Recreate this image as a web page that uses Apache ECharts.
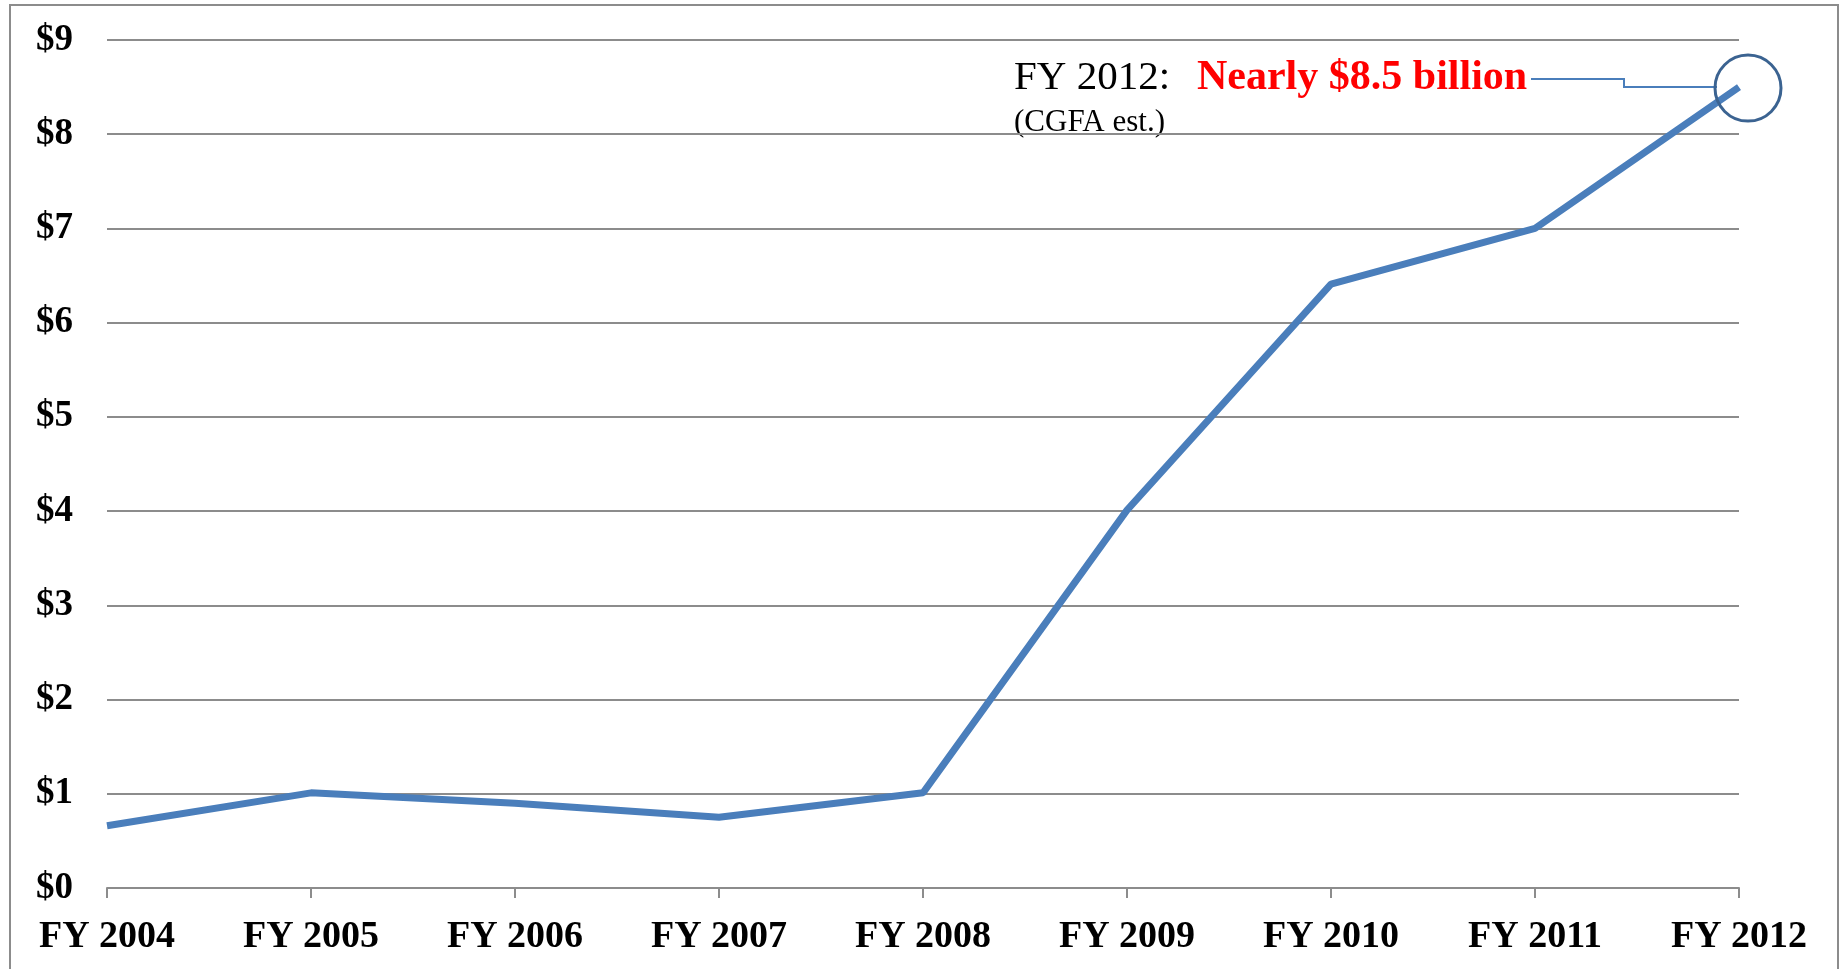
<!DOCTYPE html>
<html>
<head>
<meta charset="utf-8">
<script src="https://cdn.jsdelivr.net/npm/echarts@6/dist/echarts.min.js"></script>
<style>
  html, body { margin: 0; padding: 0; background: #fff; }
  #chart { width: 1841px; height: 969px; }
</style>
</head>
<body>
<div id="chart"></div>
<script>
// fiscal years
const years = ['FY 2004', 'FY 2005', 'FY 2006', 'FY 2007', 'FY 2008', 'FY 2009', 'FY 2010', 'FY 2011', 'FY 2012']
// spending, $ billion
const billions = [0.66, 1.01, 0.9, 0.75, 1.01, 4.01, 6.41, 7.0, 8.5]
const yTicks = [0, 1, 2, 3, 4, 5, 6, 7, 8, 9]

const serif = '"Liberation Serif", "Times New Roman", serif'
const lineBlue = '#4a7ebb'
const gridGray = '#8c8c8c'

const chart = echarts.init(document.getElementById('chart'))

chart.setOption({
  animation: false,
  backgroundColor: '#fff',
  grid: {
    left: 107,
    right: 102,
    top: 40,
    bottom: 81
  },
  xAxis: {
    type: 'category',
    data: years,
    boundaryGap: false,
    axisLine: { lineStyle: { color: gridGray, width: 2 } },
    axisTick: { show: true, length: 10, lineStyle: { color: gridGray, width: 2 } },
    axisLabel: {
      color: '#000',
      fontFamily: serif,
      fontWeight: 'bold',
      fontSize: 38,
      margin: 30
    }
  },
  yAxis: {
    type: 'value',
    min: yTicks[0],
    max: yTicks[yTicks.length - 1],
    interval: 1,
    axisLine: { show: false },
    axisTick: { show: false },
    splitLine: { lineStyle: { color: gridGray, width: 2 } },
    axisLabel: {
      color: '#000',
      fontFamily: serif,
      fontWeight: 'bold',
      fontSize: 37,
      margin: 34,
      padding: [10, 0, 0, 0],
      formatter: v => '$' + v
    }
  },
  series: [{
    type: 'line',
    data: billions,
    symbol: 'none',
    lineStyle: { color: lineBlue, width: 7 },
    markPoint: {
      silent: true,
      symbol: 'circle',
      symbolSize: 66,
      symbolOffset: [9, 1],
      itemStyle: { color: 'rgba(0,0,0,0)', borderColor: '#3b6391', borderWidth: 3 },
      label: { show: false },
      data: [{ coord: [years.length - 1, billions[billions.length - 1]] }]
    }
  }],
  graphic: [
    {
      type: 'rect',
      shape: { x: 10, y: 5, width: 1828, height: 1000 },
      style: { fill: 'none', stroke: '#8c8c8c', lineWidth: 2 }
    },
    {
      type: 'text',
      x: 1014, y: 99,
      style: {
        text: 'FY 2012:',
        font: '41px ' + serif,
        fill: '#000',
        verticalAlign: 'bottom'
      }
    },
    {
      type: 'text',
      x: 1197, y: 99,
      style: {
        text: 'Nearly $8.5 billion',
        font: 'bold 42px ' + serif,
        fill: '#ff0000',
        verticalAlign: 'bottom'
      }
    },
    {
      type: 'text',
      x: 1014, y: 138,
      style: {
        text: '(CGFA est.)',
        font: '31px ' + serif,
        fill: '#000',
        verticalAlign: 'bottom'
      }
    },
    {
      type: 'polyline',
      shape: { points: [[1531, 79], [1624, 79], [1624, 87], [1717, 87]] },
      style: { stroke: lineBlue, lineWidth: 2, fill: 'none' }
    }
  ]
})
</script>
</body>
</html>
